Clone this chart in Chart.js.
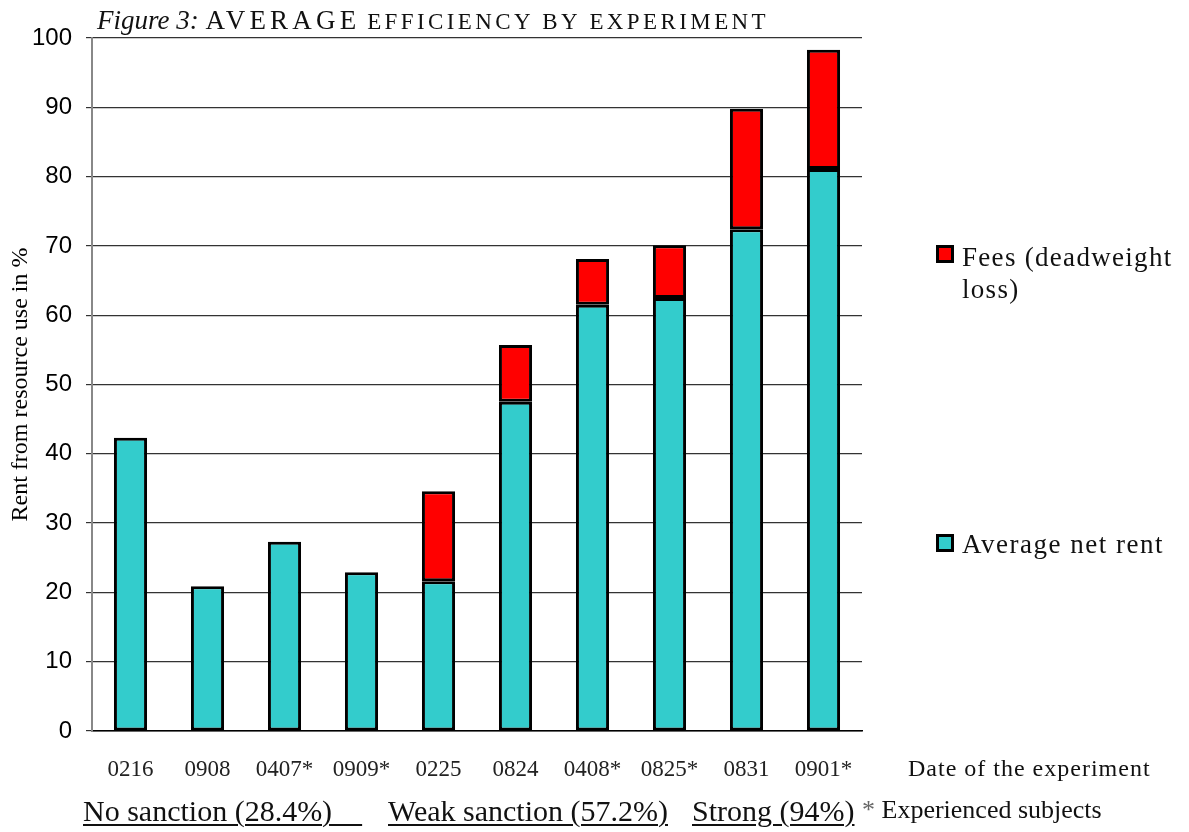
<!DOCTYPE html>
<html>
<head>
<meta charset="utf-8">
<script src="https://cdn.jsdelivr.net/npm/chart.js@4/dist/chart.umd.min.js"></script>
<style>
  html, body { margin: 0; padding: 0; background: #fff; }
  #wrap { position: relative; width: 1189px; height: 832px; overflow: hidden; }
  #c { position: absolute; left: 0; top: 0; }
  .t { position: absolute; font-family: "Liberation Serif", "DejaVu Serif", serif; color: #111; white-space: pre; line-height: 1; }
  .title { left: 97px; top: 7px; font-size: 27px; }
  .title .cap { letter-spacing: 4.2px; }
  .title .sc { font-size: 23px; letter-spacing: 3.4px; }
  .u { text-decoration: underline; text-underline-offset: 3px; text-decoration-thickness: 2px; }
  .sw { position: absolute; width: 12px; height: 12px; border: 3px solid #000; box-sizing: content-box; }
</style>
</head>
<body>
<div id="wrap">
  <canvas id="c" width="1189" height="832"></canvas>
  <div class="t title"><i>Figure 3:</i> <span class="cap">AVERAGE</span> <span class="sc">EFFICIENCY BY EXPERIMENT</span></div>

  <div class="sw" style="left:936px; top:245px; background:#FF0000;"></div>
  <div class="t" style="left:962px; top:241px; font-size:27px; line-height:32px; letter-spacing:1.3px;">Fees (deadweight<br>loss)</div>
  <div class="sw" style="left:936px; top:534px; background:#33CCCC;"></div>
  <div class="t" style="left:962px; top:531px; font-size:27px; letter-spacing:1.5px;">Average net rent</div>

  <div class="t" style="left:908px; top:756px; font-size:24px; letter-spacing:1px;">Date of the experiment</div>

  <div class="t u" style="left:83px; top:796px; font-size:30px;">No sanction (28.4%)    </div>
  <div class="t u" style="left:388px; top:796px; font-size:30px;">Weak sanction (57.2%)</div>
  <div class="t u" style="left:692px; top:796px; font-size:30px;">Strong (94%)</div>
  <div class="t" style="left:862px; top:797px; font-size:26px;"><span style="color:#666">*</span> Experienced subjects</div>
</div>
<script>
// Experiment dates (x categories)
const categories = ['0216', '0908', '0407*', '0909*', '0225', '0824', '0408*', '0825*', '0831', '0901*'];
// Average net rent, % of the maximum rent
const netRent = [42.3, 20.9, 27.3, 22.9, 21.6, 47.5, 61.5, 62.5, 72.4, 81.1];
// Fees paid (deadweight loss), % of the maximum rent
const fees = [null, null, null, null, 13.0, 8.2, 6.6, 7.6, 17.4, 17.2];
// Value axis ticks
const yTicks = [0, 10, 20, 30, 40, 50, 60, 70, 80, 90, 100];

const serif = '"Liberation Serif", "DejaVu Serif", serif';

new Chart(document.getElementById('c'), {
  type: 'bar',
  data: {
    labels: categories,
    datasets: [
      {
        label: 'Average net rent',
        data: netRent,
        backgroundColor: '#33CCCC',
        borderColor: '#000',
        borderWidth: 3,
        borderSkipped: false,
        barPercentage: 0.43,
        categoryPercentage: 1
      },
      {
        label: 'Fees (deadweight loss)',
        data: fees,
        backgroundColor: '#FF0000',
        borderColor: '#000',
        borderWidth: 3,
        borderSkipped: false,
        barPercentage: 0.43,
        categoryPercentage: 1
      }
    ]
  },
  options: {
    responsive: false,
    animation: false,
    devicePixelRatio: 1,
    layout: { padding: { left: 0, top: 38, right: 327, bottom: 0 } },
    plugins: {
      legend: { display: false },
      tooltip: { enabled: false },
      title: { display: false }
    },
    scales: {
      x: {
        stacked: true,
        grid: { display: false, drawTicks: false },
        border: { display: true, color: '#000', width: 1.5 },
        ticks: {
          padding: 25,
          color: '#222',
          font: { family: serif, size: 23 },
          maxRotation: 0,
          autoSkip: false
        },
        afterFit: (s) => { s.height = 101; }
      },
      y: {
        stacked: true,
        min: 0,
        max: 100,
        afterBuildTicks: (s) => { s.ticks = yTicks.map(v => ({ value: v })); },
        grid: { color: '#333', lineWidth: 1.2, drawTicks: true, tickLength: 6 },
        border: { display: true, color: '#888', width: 2 },
        ticks: {
          padding: 14,
          color: '#000',
          font: { family: '"Liberation Sans", Arial, sans-serif', size: 24 }
        },
        title: {
          display: true,
          text: 'Rent from resource use in %',
          color: '#000',
          font: { family: serif, size: 24 },
          padding: { top: 6, bottom: 0 }
        },
        afterFit: (s) => { s.width = 92; }
      }
    }
  }
});
</script>
</body>
</html>
